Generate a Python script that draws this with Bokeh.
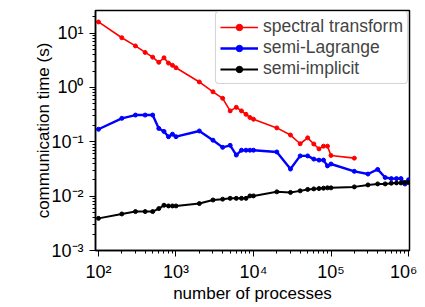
from bokeh.plotting import figure
from bokeh.models import CustomJSTickFormatter, Range1d, Legend, LegendItem
from bokeh.embed import file_html
from bokeh.resources import INLINE

# ---- data ----
st_x = [100, 200, 300, 400, 500, 600, 700, 800, 900, 1000, 2000, 3000, 4000, 5000,
        6000, 7000, 8000, 9000, 10000, 20000, 30000, 40000, 50000, 60000, 70000,
        80000, 90000, 100000, 200000]
st_y = [16, 8.2, 5.8, 4.4, 3.6, 2.9, 3.5, 2.8, 2.55, 2.3, 1.26, 0.83, 0.63, 0.37,
        0.43, 0.37, 0.32, 0.28, 0.26, 0.18, 0.133, 0.092, 0.118, 0.091, 0.074,
        0.083, 0.083, 0.056, 0.050]

sl_x = [100, 200, 300, 400, 500, 600, 700, 800, 900, 1000, 2000, 3000, 4000, 5000,
        6000, 7000, 8000, 9000, 10000, 20000, 30000, 40000, 50000, 60000, 70000,
        80000, 90000, 100000, 200000, 300000, 400000, 500000, 600000, 700000,
        800000, 900000, 1000000]
sl_y = [0.17, 0.27, 0.31, 0.31, 0.31, 0.176, 0.155, 0.124, 0.138, 0.124, 0.158,
        0.107, 0.079, 0.086, 0.057, 0.070, 0.070, 0.070, 0.070, 0.065, 0.0315,
        0.055, 0.055, 0.048, 0.046, 0.046, 0.036, 0.039, 0.0286, 0.0255, 0.031,
        0.022, 0.021, 0.021, 0.021, 0.0167, 0.020]

si_x = sl_x
si_y = [0.0039, 0.0047, 0.0052, 0.0052, 0.0052, 0.0059, 0.0068, 0.0066, 0.0066,
        0.0066, 0.0073, 0.0085, 0.0088, 0.0091, 0.0091, 0.0091, 0.0091, 0.0101,
        0.0101, 0.012, 0.0117, 0.0125, 0.0133, 0.0136, 0.0138, 0.0140, 0.0142,
        0.0142, 0.0148, 0.0161, 0.0168, 0.0168, 0.0173, 0.0175, 0.0175, 0.0178,
        0.0178]

series_names = ["spectral transform", "semi-Lagrange", "semi-implicit"]

x_tick_exponents = [2, 3, 4, 5, 6]
x_tick_labels = ["10\u00b2", "10\u00b3", "10\u2074", "10\u2075", "10\u2076"]
y_tick_exponents = [-3, -2, -1, 0, 1]
y_tick_labels = ["10\u207b\u00b3", "10\u207b\u00b2", "10\u207b\u00b9", "10\u2070", "10\u00b9"]

FONT = "Liberation Sans"

p = figure(width=417, height=305, x_axis_type="log", y_axis_type="log",
           output_backend="svg", toolbar_location=None,
           min_border_left=95, min_border_right=8, min_border_top=10,
           min_border_bottom=54)
p.x_range = Range1d(91.5, 1.03e6)
p.y_range = Range1d(1e-3, 26)

p.xgrid.visible = False
p.ygrid.visible = False
p.outline_line_color = "black"
p.outline_line_width = 1.5
p.background_fill_color = "white"
p.border_fill_color = "white"

fmt_code = """
const e = Math.round(Math.log10(tick));
const i = exps.indexOf(e);
return i >= 0 ? labels[i] : "";
"""
p.xaxis.formatter = CustomJSTickFormatter(args=dict(exps=x_tick_exponents, labels=x_tick_labels), code=fmt_code)
p.yaxis.formatter = CustomJSTickFormatter(args=dict(exps=y_tick_exponents, labels=y_tick_labels), code=fmt_code)

for ax in (p.xaxis[0], p.yaxis[0]):
    ax.major_label_text_font = FONT
    ax.major_label_text_font_size = "18px"
    ax.major_label_text_color = "black"
    ax.axis_label_text_font = FONT
    ax.axis_label_text_font_size = "17px"
    ax.axis_label_text_font_style = "normal"
    ax.axis_label_text_color = "black"
    ax.axis_line_width = 1.5
    ax.major_tick_out = 6
    ax.major_tick_in = 0
    ax.minor_tick_out = 3
    ax.minor_tick_in = 0

p.xaxis.major_label_standoff = 5
p.yaxis.major_label_standoff = 6
p.xaxis.axis_label = "number of processes"
p.yaxis.axis_label = "communication time (s)"
p.xaxis.axis_label_standoff = -1
p.yaxis.axis_label_standoff = -5

items = []
specs = [(st_x, st_y, "#ff0000", 1.6), (sl_x, sl_y, "#0000ff", 2.4), (si_x, si_y, "black", 2.0)]
for (xs, ys, col, lw), name in zip(specs, series_names):
    r1 = p.line(xs, ys, line_color=col, line_width=lw)
    r2 = p.scatter(xs, ys, marker="circle", size=4, fill_color=col, line_color=col)
    items.append(LegendItem(label=name, renderers=[r1, r2]))

legend = Legend(items=items, location="top_right")
legend.label_text_font = FONT
legend.label_text_font_size = "17.5px"
legend.label_height = 16
legend.glyph_height = 16
legend.glyph_width = 38
legend.label_standoff = 5
legend.spacing = 0
legend.padding = 4
legend.margin = 1
legend.border_line_color = "#aaaaaa"
legend.border_line_width = 1
legend.background_fill_alpha = 1
if "border_radius" in Legend.properties():
    legend.border_radius = 4
p.add_layout(legend)

open("out.html", "w").write(file_html(p, INLINE))
